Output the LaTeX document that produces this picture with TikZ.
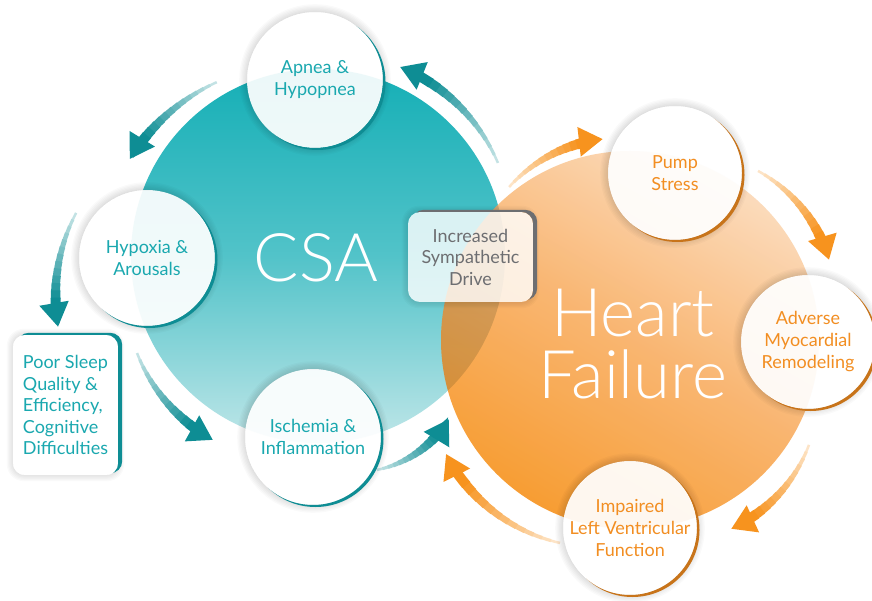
\documentclass[tikz,border=0pt]{standalone}
\usepackage{fontspec}
\setmainfont{Lato}
\newfontfamily\thinfont{Lato Light}
\usetikzlibrary{arrows.meta}

\definecolor{csateal}{HTML}{15AFB6}
\definecolor{csamid}{HTML}{52C3C9}
\definecolor{csalight}{HTML}{BFE6E8}
\definecolor{tealdark}{HTML}{0E8D94}
\definecolor{tealtext}{HTML}{1AA8AF}
\definecolor{hfpeach}{HTML}{FBD8B6}
\definecolor{hfmid}{HTML}{F9AE62}
\definecolor{hforange}{HTML}{F7931E}
\definecolor{orangetext}{HTML}{F28E22}
\definecolor{orangerim}{HTML}{C8741A}
\definecolor{drivegrey}{HTML}{6D6E71}

% curved arrow along an arc: colour, centre, radius, start angle, end angle
\newcommand{\cyclearrow}[5]{%
  \foreach \i in {0,...,11}{%
    \pgfmathsetmacro{\angA}{#4+(#5-#4)*0.75*\i/12}%
    \pgfmathsetmacro{\angB}{#4+(#5-#4)*0.75*(\i+1.2)/12}%
    \pgfmathtruncatemacro{\pct}{25+70*\i/11}%
    \pgfmathsetmacro{\lw}{2.5+7*\i/11}%
    \draw[line width=\lw pt, draw=#1!\pct!white]
      ([shift={(\angA:#3)}]#2) arc[start angle=\angA, end angle=\angB, radius=#3];
  }%
  \pgfmathsetmacro{\angA}{#4+(#5-#4)*0.75}%
  \draw[line width=10pt, draw=#1, -{Triangle[length=24pt,width=28pt]}]
    ([shift={(\angA:#3)}]#2) arc[start angle=\angA, end angle=#5, radius=#3];
}

% coloured rim and soft glow outside a round step
\newcommand{\ringrim}[3]{%
  \begin{scope}
    \clip (-20,-640) rectangle (900,20) (#1.center) circle[radius=#3];
    \foreach \k in {1,...,6}
      \fill[black, opacity=.018] (#1.center) circle[radius=#3+1.3*\k];
    \fill[#2] ([shift={(2.5,-2)}]#1.center) circle[radius=#3];
  \end{scope}}

% coloured rim and soft glow outside a card
\newcommand{\cardrim}[2]{%
  \begin{scope}
    \clip (-20,-640) rectangle (900,20) [rounded corners=12pt] (#1.north west) rectangle (#1.south east);
    \foreach \k in {1,...,5}
      \fill[black, opacity=.02, rounded corners=12pt+\k pt]
        ([shift={(-1.2*\k,-1.2*\k)}]#1.south west) rectangle ([shift={(1.2*\k,1.2*\k)}]#1.north east);
    \fill[#2, rounded corners=12pt] ([shift={(4,2)}]#1.south west) rectangle ([shift={(4,2)}]#1.north east);
  \end{scope}}

\begin{document}
\begin{tikzpicture}[x=1pt,y=1pt,
    cyc/.style={circle, minimum size=136pt, inner sep=0pt, fill=white, fill opacity=.92,
      text opacity=1, align=center, font=\fontsize{18}{22}\selectfont},
    csacyc/.style={cyc, text=tealtext},
    hfcyc/.style={cyc, text=orangetext, minimum size=134pt},
    card/.style={rounded corners=12pt, inner sep=0pt, font=\fontsize{18}{21.5}\selectfont},
    bigtext/.style={text=white, align=center, inner sep=0pt, font=\thinfont\fontsize{67}{62}\selectfont}]

  \useasboundingbox (0,0) rectangle (872,-601);
  \fill[white] (0,0) rectangle (872,-601);

  %% big circles
  \coordinate (csac) at (318,-256);
  \coordinate (hfc) at (630,-340);
  \shade[top color=csateal, bottom color=csalight, middle color=csamid] (csac) circle[radius=187];
  \shade[top color=hfpeach, bottom color=hforange, middle color=hfmid, shading angle=-30, opacity=.9]
    (hfc) circle[radius=189];
  \begin{scope}
    \clip (csac) circle[radius=187];
    \fill[black, opacity=.1] (hfc) circle[radius=189];
  \end{scope}

  \node[bigtext] (csa) at (316,-258) {CSA};
  \node[bigtext] (hf) at (633,-344) {Heart\\Failure};

  %% arrows, CSA side
  \coordinate (ta) at (300,-264);
  \coordinate (tb) at (235.5,-296.6);
  \coordinate (tc) at (295.4,-291.3);
  \coordinate (td) at (354.7,-362.2);
  \coordinate (te) at (332.5,-233.8);
  \cyclearrow{tealdark}{ta}{200}{114.6}{148.4}
  \cyclearrow{tealdark}{tb}{180}{152.3}{189.7}
  \cyclearrow{tealdark}{tc}{170}{201.3}{241}
  \cyclearrow{tealdark}{td}{110}{-78.3}{-31.1}
  \cyclearrow{tealdark}{te}{180}{23.2}{68}

  %% arrows, heart failure side
  \coordinate (oa) at (619.9,-288.1);
  \coordinate (ob) at (685.1,-302);
  \coordinate (oc) at (668.4,-392.6);
  \coordinate (od) at (597.7,-377.2);
  \cyclearrow{hforange}{oa}{150}{137.6}{96.5}
  \cyclearrow{hforange}{ob}{150}{60.9}{16.3}
  \cyclearrow{hforange}{oc}{150}{-20.4}{-65.3}
  \cyclearrow{hforange}{od}{170}{257.2}{206.8}

  %% steps
  \node[csacyc] (apnea) at (315,-80) {Apnea \&\\Hypopnea};
  \node[csacyc] (hypoxia) at (147,-258) {Hypoxia \&\\Arousals};
  \node[csacyc] (ischemia) at (313,-437) {Ischemia \&\\Inflammation};
  \node[hfcyc] (pump) at (675,-173) {Pump\\Stress};
  \node[hfcyc] (remodel) at (808,-342) {Adverse\\Myocardial\\Remodeling};
  \node[hfcyc] (impaired) at (630,-528) {Impaired\\Left Ventricular\\Function};

  \ringrim{apnea}{tealdark}{68}
  \ringrim{hypoxia}{tealdark}{68}
  \ringrim{ischemia}{tealdark}{68}
  \ringrim{pump}{orangerim}{67}
  \ringrim{remodel}{orangerim}{67}
  \ringrim{impaired}{orangerim}{67}

  %% cards
  \node[card, fill=white, text=tealtext, align=left, minimum width=105pt, minimum height=140pt]
    (sleep) at (65.5,-405) {Poor Sleep\\Quality \&\\Efficiency,\\Cognitive\\Difficulties};
  \node[card, fill=white, fill opacity=.8, text opacity=1, text=drivegrey, align=center,
    minimum width=125pt, minimum height=90pt]
    (drive) at (470.5,-257) {Increased\\Sympathetic\\Drive};
  \cardrim{sleep}{tealdark}
  \cardrim{drive}{drivegrey}
\end{tikzpicture}
\end{document}
